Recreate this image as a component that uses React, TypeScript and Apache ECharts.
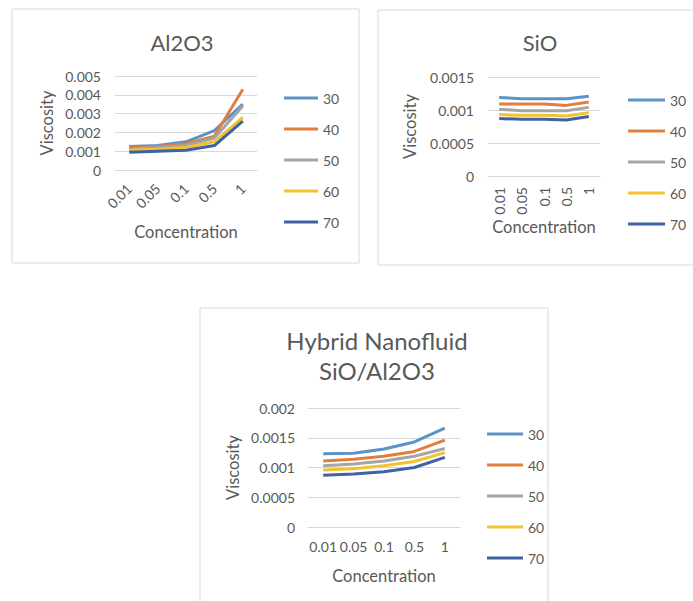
import React, { useEffect, useRef } from 'react';
import * as echarts from 'echarts';

const categories = ['0.01', '0.05', '0.1', '0.5', '1'];
const temperatures = ['30', '40', '50', '60', '70'];
const colors = ['#5B93C8', '#E27E3D', '#A5A5A5', '#F2C230', '#3F62A0'];

const al2o3Values = [
  [0.00125, 0.0013, 0.0015, 0.0021, 0.0035],
  [0.0012, 0.00125, 0.0014, 0.0018, 0.0043],
  [0.0011, 0.0012, 0.0013, 0.0017, 0.0034],
  [0.00105, 0.0011, 0.0012, 0.0015, 0.0028],
  [0.00095, 0.001, 0.00105, 0.0013, 0.0026],
];

const sioValues = [
  [0.00119, 0.00117, 0.00117, 0.00117, 0.00121],
  [0.00109, 0.00109, 0.00109, 0.00107, 0.00112],
  [0.00101, 0.00099, 0.00099, 0.00099, 0.00104],
  [0.00093, 0.00092, 0.00092, 0.00091, 0.00096],
  [0.00087, 0.00086, 0.00086, 0.00085, 0.0009],
];

const hybridValues = [
  [0.00123, 0.00124, 0.00131, 0.00143, 0.00166],
  [0.00111, 0.00114, 0.00119, 0.00127, 0.00146],
  [0.00103, 0.00106, 0.00111, 0.00119, 0.00132],
  [0.00096, 0.00098, 0.00103, 0.0011, 0.00125],
  [0.00087, 0.00089, 0.00093, 0.001, 0.00117],
];

const al2o3Ticks = { max: 0.005, interval: 0.001 };
const sioTicks = { max: 0.0015, interval: 0.0005 };
const hybridTicks = { max: 0.002, interval: 0.0005 };

const FONT = 'Lato';
const TEXT = '#595959';
const GRID_LINE = '#D9D9D9';

export default function App() {
  const ref = useRef<HTMLDivElement>(null);

  useEffect(() => {
    document.body.style.margin = '0';
    if (!ref.current) return;
    const chart = echarts.init(ref.current, undefined, { renderer: 'svg' });

    const fmt = (v: number) => String(Number(v.toFixed(5)));

    const panels = [
      {
        grid: { left: 115, top: 76, width: 142, height: 94 },
        ticks: al2o3Ticks,
        values: al2o3Values,
        rotate: 45,
        labelMargin: 16,
        xNameGap: 53,
        yNameGap: 60,
        yLabelMargin: 14,
        legend: { left: 279, top: 86, itemWidth: 34 },
      },
      {
        grid: { left: 488, top: 77, width: 112, height: 99 },
        ticks: sioTicks,
        values: sioValues,
        rotate: 90,
        labelMargin: 11,
        xNameGap: 38,
        yNameGap: 70,
        yLabelMargin: 14,
        legend: { left: 623, top: 88, itemWidth: 37 },
      },
      {
        grid: { left: 308, top: 408, width: 152, height: 119 },
        ticks: hybridTicks,
        values: hybridValues,
        rotate: 0,
        labelMargin: 12,
        xNameGap: 40,
        yNameGap: 67,
        yLabelMargin: 13,
        legend: { left: 482, top: 422, itemWidth: 36 },
      },
    ];

    const series: any[] = [];
    panels.forEach((p, pi) => {
      p.values.forEach((vals, si) => {
        series.push({
          type: 'line',
          name: temperatures[si],
          xAxisIndex: pi,
          yAxisIndex: pi,
          data: vals,
          symbol: 'none',
          color: colors[si],
          lineStyle: { width: 3, color: colors[si] },
        });
      });
    });

    const option: any = {
      animation: false,
      textStyle: { fontFamily: FONT },
      grid: panels.map((p) => ({ ...p.grid, containLabel: false })),
      xAxis: panels.map((p, pi) => ({
        type: 'category',
        gridIndex: pi,
        data: categories,
        boundaryGap: true,
        name: 'Concentration',
        nameLocation: 'middle',
        nameGap: p.xNameGap,
        nameTextStyle: { color: TEXT, fontSize: 16.5, fontFamily: FONT },
        axisLine: { show: true, lineStyle: { color: GRID_LINE, width: 1 } },
        axisTick: { show: false },
        axisLabel: {
          interval: 0,
          rotate: p.rotate,
          margin: p.labelMargin,
          color: TEXT,
          fontSize: 14,
          fontFamily: FONT,
        },
      })),
      yAxis: panels.map((p, pi) => ({
        type: 'value',
        gridIndex: pi,
        min: 0,
        max: p.ticks.max,
        interval: p.ticks.interval,
        name: 'Viscosity',
        nameLocation: 'middle',
        nameRotate: 90,
        nameGap: p.yNameGap,
        nameTextStyle: { color: TEXT, fontSize: 16.5, fontFamily: FONT },
        axisLine: { show: false },
        axisTick: { show: false },
        splitLine: { show: true, lineStyle: { color: GRID_LINE, width: 1 } },
        axisLabel: {
          color: TEXT,
          fontSize: 14,
          fontFamily: FONT,
          margin: p.yLabelMargin,
          formatter: fmt,
        },
      })),
      legend: panels.map((p) => ({
        orient: 'vertical',
        left: p.legend.left,
        top: p.legend.top,
        data: temperatures,
        icon: 'rect',
        itemWidth: p.legend.itemWidth,
        itemHeight: 3,
        itemGap: 17,
        selectedMode: false,
        textStyle: { color: TEXT, fontSize: 14, lineHeight: 14, fontFamily: FONT },
      })),
      graphic: [
        { type: 'rect', shape: { x: 12, y: 9, width: 347, height: 254 }, style: { fill: 'none', stroke: GRID_LINE, lineWidth: 1 }, silent: true },
        { type: 'rect', shape: { x: 378, y: 10, width: 330, height: 255 }, style: { fill: 'none', stroke: GRID_LINE, lineWidth: 1 }, silent: true },
        { type: 'rect', shape: { x: 200, y: 308, width: 348, height: 310 }, style: { fill: 'none', stroke: GRID_LINE, lineWidth: 1 }, silent: true },
        { type: 'text', x: 182, y: 42, style: { text: 'Al2O3', fill: TEXT, font: `22px ${FONT}`, textAlign: 'center', textVerticalAlign: 'middle' } },
        { type: 'text', x: 540, y: 42, style: { text: 'SiO', fill: TEXT, font: `22px ${FONT}`, textAlign: 'center', textVerticalAlign: 'middle' } },
        { type: 'text', x: 377, y: 355, style: { text: 'Hybrid Nanofluid\nSiO/Al2O3', fill: TEXT, font: `24px ${FONT}`, lineHeight: 30, textAlign: 'center', textVerticalAlign: 'middle' } },
      ],
      series,
    };

    chart.setOption(option);
    return () => chart.dispose();
  }, []);

  return <div ref={ref} style={{ width: 693, height: 601, background: '#fff' }} />;
}
